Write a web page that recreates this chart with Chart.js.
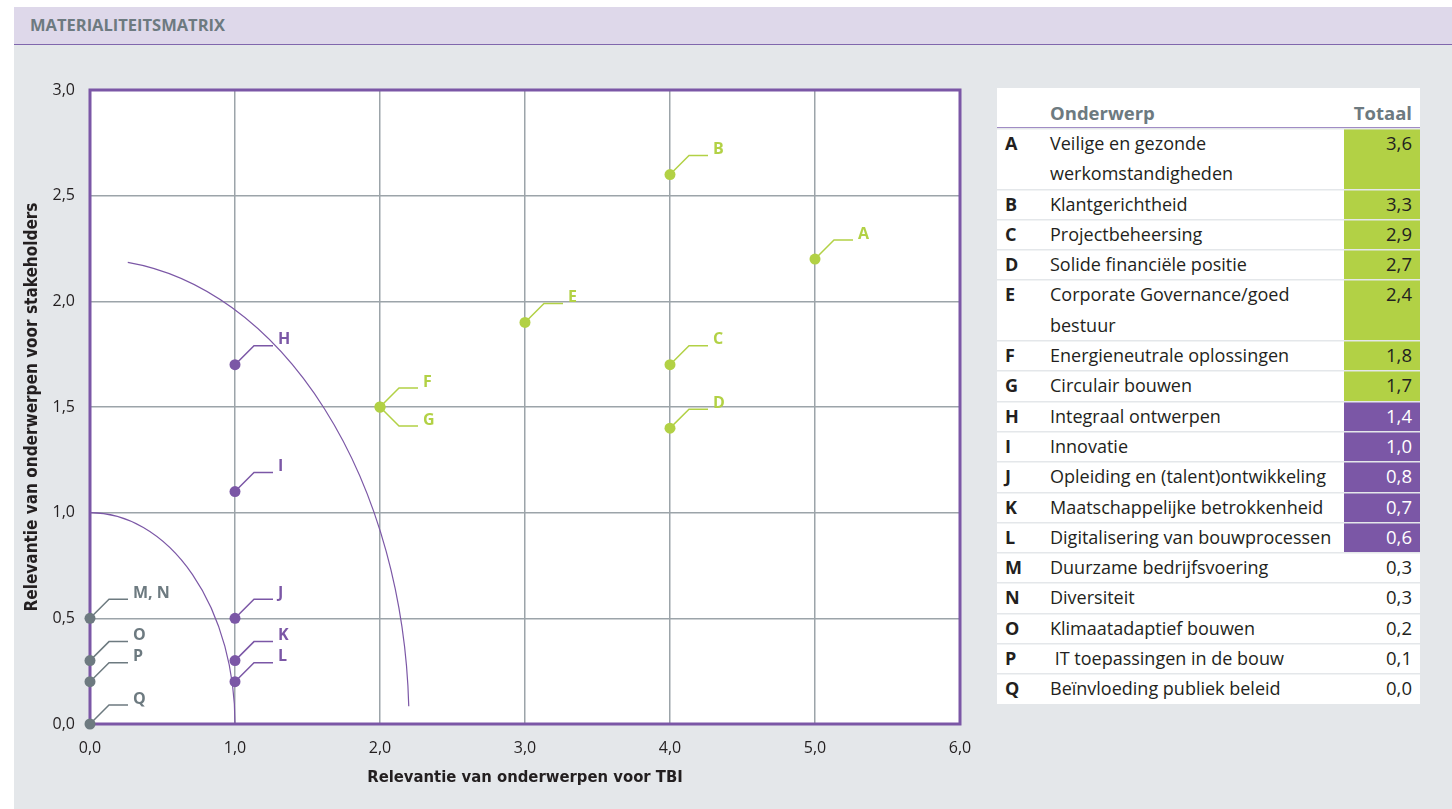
<!DOCTYPE html>
<html>
<head>
<meta charset="utf-8">
<script src="https://cdn.jsdelivr.net/npm/chart.js@4.4.1/dist/chart.umd.min.js"></script>
<style>
  html, body { margin:0; padding:0; background:#ffffff; width:1452px; height:809px; overflow:hidden; }
  #panel { position:absolute; left:14px; top:7px; right:0; bottom:0; background:#e4e7ea; }
  #band { position:absolute; left:14px; top:7px; right:0; height:37px; background:#ded8ea; border-bottom:1.5px solid #8067ad; }
  #band span { position:absolute; left:16px; top:6px; font-family:"Open Sans", sans-serif; font-weight:700; font-size:16.5px; color:#6d7a80; }
  #chartBox { position:absolute; left:0; top:50px; width:990px; height:759px; }
  #tbl { position:absolute; left:997px; top:88px; width:423px; background:#ffffff; font-family:"Open Sans", sans-serif; color:#231f20; }
  table { border-collapse:collapse; width:100%; }
  th { font-weight:700; font-size:18.5px; color:#6d7a80; height:38px; text-align:left; padding:0; border-bottom:1.5px solid #a08cc4; vertical-align:bottom; padding-bottom:1px; line-height:26px; }
  td { font-size:18px; padding:0; line-height:30.3px; border:none; box-shadow: inset 0 1.5px 0 #e4e7ea; vertical-align:top; }
  td.id { width:53px; font-weight:700; padding-left:8px; box-sizing:border-box; font-size:18px; }
  td.val { width:76px; text-align:right; padding-right:8px; box-sizing:border-box; font-size:18.5px; }
  th.val { text-align:right; padding-right:8px; }
</style>
</head>
<body>
<div id="panel"></div>
<div id="band"><span>MATERIALITEITSMATRIX</span></div>
<div id="chartBox"><canvas id="c"></canvas></div>
<div id="tbl"><table id="t"></table></div>
<script>
// ---- Table data ----
const topicIds = ['A','B','C','D','E','F','G','H','I','J','K','L','M','N','O','P','Q'];
const topicNames = [
  'Veilige en gezonde werkomstandigheden',
  'Klantgerichtheid',
  'Projectbeheersing',
  'Solide financiële positie',
  'Corporate Governance/goed bestuur',
  'Energieneutrale oplossingen',
  'Circulair bouwen',
  'Integraal ontwerpen',
  'Innovatie',
  'Opleiding en (talent)ontwikkeling',
  'Maatschappelijke betrokkenheid',
  'Digitalisering van bouwprocessen',
  'Duurzame bedrijfsvoering',
  'Diversiteit',
  'Klimaatadaptief bouwen',
  ' IT toepassingen in de bouw',
  'Beïnvloeding publiek beleid'
];
const topicTotals = [3.6,3.3,2.9,2.7,2.4,1.8,1.7,1.4,1.0,0.8,0.7,0.6,0.3,0.3,0.2,0.1,0.0];
const topicGroups = ['high','high','high','high','high','high','high','mid','mid','mid','mid','mid','low','low','low','low','low'];

// ---- Matrix data ----
const pointLabels = ['A','B','C','D','E','F','G','H','I','J','K','L','M, N','O','P','Q'];
const tbiValues   = [5.0,4.0,4.0,4.0,3.0,2.0,2.0,1.0,1.0,1.0,1.0,1.0,0.0,0.0,0.0,0.0];
const stakeValues = [2.2,2.6,1.7,1.4,1.9,1.5,1.5,1.7,1.1,0.5,0.3,0.2,0.5,0.3,0.2,0.0];
const pointGroups = ['high','high','high','high','high','high','high','mid','mid','mid','mid','mid','low','low','low','low'];
const labelSide   = ['up','up','up','up','up','up','down','up','up','up','up','up','up','up','up','up'];

const xTicks = [0,1,2,3,4,5,6];
const yTicks = [0,0.5,1,1.5,2,2.5,3];
// Threshold arcs (data-unit radius, start/end angle in degrees)
const arcRadii = [1.0, 2.2];
const arcFrom  = [0, 2.2];
const arcTo    = [90, 83.2];

const groupColors = { high:'#b2d145', mid:'#7b57a6', low:'#6d7a80' };
const fmt = v => v.toFixed(1).replace('.', ',');

// Build table
const t = document.getElementById('t');
let html = '<tr><th></th><th>Onderwerp</th><th class="val">Totaal</th></tr>';
topicIds.forEach((id, i) => {
  const g = topicGroups[i];
  let style = '';
  if (g === 'high') style = 'background:#b2d145;color:#231f20;';
  else if (g === 'mid') style = 'background:#7b57a6;color:#ffffff;';
  const name = topicNames[i].replace('gezonde werkomstandigheden','gezonde<br>werkomstandigheden').replace('Governance/goed bestuur','Governance/goed<br>bestuur');
  html += `<tr><td class="id">${id}</td><td style="white-space:pre">${name}</td><td class="val" style="${style}">${fmt(topicTotals[i])}</td></tr>`;
});
t.innerHTML = html;

// Build datasets
const datasets = ['high','mid','low'].map(g => ({
  label: g,
  data: pointLabels.map((l, i) => ({x: tbiValues[i], y: stakeValues[i], g: pointGroups[i]})).filter(p => p.g === g),
  backgroundColor: groupColors[g],
  borderWidth: 0,
  pointRadius: 5.5,
  pointHoverRadius: 5.5,
  clip: false
}));

const decor = {
  id: 'decor',
  beforeDraw(chart) {
    const {ctx, chartArea: a} = chart;
    ctx.save();
    ctx.fillStyle = '#ffffff';
    ctx.fillRect(a.left, a.top, a.right - a.left, a.bottom - a.top);
    ctx.restore();
  },
  beforeDatasetsDraw(chart) {
    const {ctx, chartArea: a, scales: {x, y}} = chart;
    ctx.save();
    ctx.strokeStyle = '#7b57a6';
    ctx.lineWidth = 1.2;
    arcRadii.forEach((r, i) => {
      const cx = x.getPixelForValue(0), cy = y.getPixelForValue(0);
      const rx = x.getPixelForValue(r) - cx, ry = cy - y.getPixelForValue(r);
      ctx.beginPath();
      ctx.ellipse(cx, cy, rx, ry, 0, -arcTo[i] * Math.PI / 180, -arcFrom[i] * Math.PI / 180, false);
      ctx.stroke();
    });
    ctx.strokeStyle = '#7b57a6';
    ctx.lineWidth = 3;
    ctx.strokeRect(a.left, a.top, a.right - a.left, a.bottom - a.top);
    ctx.lineWidth = 1.5;
    pointLabels.forEach((l, i) => {
      const px = x.getPixelForValue(tbiValues[i]), py = y.getPixelForValue(stakeValues[i]);
      const d = labelSide[i] === 'up' ? -1 : 1;
      ctx.strokeStyle = groupColors[pointGroups[i]];
      ctx.beginPath();
      ctx.moveTo(px, py);
      ctx.lineTo(px + 19, py + d * 19);
      ctx.lineTo(px + 38, py + d * 19);
      ctx.stroke();
    });
    ctx.restore();
  },
  afterDatasetsDraw(chart) {
    const {ctx, scales: {x, y}} = chart;
    ctx.save();
    ctx.font = '700 16px "Open Sans", sans-serif';
    ctx.textBaseline = 'middle';
    ctx.textAlign = 'left';
    pointLabels.forEach((l, i) => {
      const px = x.getPixelForValue(tbiValues[i]), py = y.getPixelForValue(stakeValues[i]);
      const d = labelSide[i] === 'up' ? -1 : 1;
      ctx.fillStyle = groupColors[pointGroups[i]];
      ctx.fillText(l, px + 43, py + d * 19 - 6);
    });
    ctx.restore();
  }
};

new Chart(document.getElementById('c'), {
  type: 'scatter',
  data: { datasets },
  plugins: [decor],
  options: {
    responsive: true,
    maintainAspectRatio: false,
    animation: false,
    events: [],
    layout: { padding: { left: 0, top: 40, right: 30, bottom: 0 } },
    plugins: { legend: { display: false }, tooltip: { enabled: false } },
    scales: {
      x: {
        type: 'linear', min: 0, max: 6,
        afterBuildTicks: s => { s.ticks = xTicks.map(v => ({value: v})); },
        afterFit: s => { s.height = 85; },
        grid: { color: '#9ca4a9', lineWidth: 1.5, drawTicks: false },
        border: { display: false },
        ticks: { padding: 15, color: '#231f20', font: { family: '"Open Sans", sans-serif', size: 16 }, callback: v => fmt(v), maxRotation: 0 },
        title: { display: true, text: 'Relevantie van onderwerpen voor TBI', color: '#231f20',
                 font: { family: '"DejaVu Sans Condensed", "DejaVu Sans", sans-serif', weight: '700', size: 16.5 },
                 padding: { top: 0, bottom: 21 } }
      },
      y: {
        type: 'linear', min: 0, max: 3,
        afterBuildTicks: s => { s.ticks = yTicks.map(v => ({value: v})); },
        afterFit: s => { s.width = 90; },
        grid: { color: '#9ca4a9', lineWidth: 1.5, drawTicks: false },
        border: { display: false },
        ticks: { padding: 15, color: '#231f20', font: { family: '"Open Sans", sans-serif', size: 16 }, callback: v => fmt(v) },
        title: { display: true, text: 'Relevantie van onderwerpen voor stakeholders', color: '#231f20',
                 font: { family: '"DejaVu Sans Condensed", "DejaVu Sans", sans-serif', weight: '700', size: 17 },
                 padding: { top: 22, bottom: 0 } }
      }
    }
  }
});
</script>
</body>
</html>
